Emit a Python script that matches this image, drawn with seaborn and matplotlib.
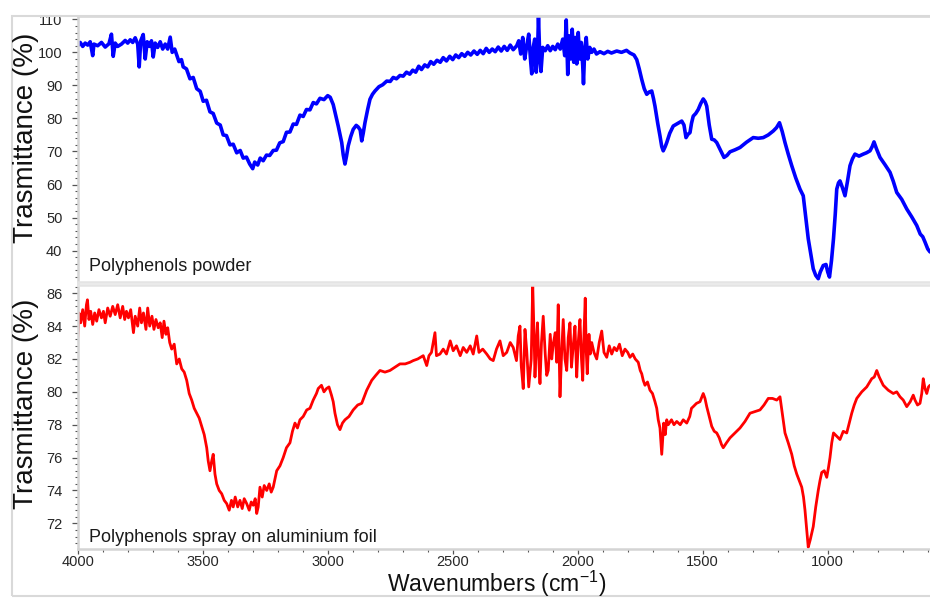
import matplotlib
matplotlib.use("Agg")
import matplotlib.pyplot as plt
from matplotlib.ticker import MultipleLocator
from matplotlib.patches import Rectangle
import seaborn as sns
import pandas as pd

# ---------------- data ----------------
wn_powder = [4000, 3990, 3980, 3970, 3960, 3950, 3940, 3935, 3920, 3905, 3890, 3875, 3865, 3858, 3850,
             3840, 3825, 3810, 3800, 3790, 3780, 3770, 3760, 3754, 3748, 3738, 3730, 3722, 3712, 3705,
             3698, 3690, 3680, 3670, 3660, 3650, 3640, 3630, 3622, 3612,
             3604, 3595, 3585, 3578, 3565, 3551, 3538, 3524, 3510, 3498, 3485, 3471, 3458, 3444, 3430,
             3418, 3405, 3391, 3378, 3364, 3350, 3338, 3325, 3312, 3300,
             3292, 3280, 3270, 3258, 3245, 3232, 3218, 3205, 3192, 3178, 3165, 3151, 3138, 3125, 3111,
             3098, 3085, 3071, 3058, 3045, 3031, 3015, 3000,
             2990, 2978, 2968, 2958, 2950, 2944, 2938, 2931, 2925, 2918, 2908, 2898, 2886, 2878, 2870,
             2864, 2858, 2851, 2840, 2831, 2821,
             2811, 2795, 2780, 2764, 2750, 2738, 2725, 2711, 2698, 2685, 2672, 2660, 2648, 2636, 2625,
             2612, 2600, 2588, 2576, 2563, 2550, 2538, 2525, 2512, 2500, 2488, 2476, 2464, 2452, 2440,
             2428, 2415, 2402, 2390, 2378, 2366, 2354, 2342, 2330, 2318, 2306, 2294, 2282, 2270, 2258, 2244,
             2236, 2228, 2220, 2212, 2204, 2196, 2188, 2184, 2178, 2172, 2166, 2160, 2157, 2152, 2147,
             2140, 2130, 2120, 2110, 2100, 2090, 2080, 2070, 2060, 2052, 2046, 2040, 2034, 2028, 2022,
             2016, 2010, 2004, 1998, 1992, 1986, 1980, 1977, 1972, 1966, 1960, 1952, 1944, 1935, 1925,
             1911, 1895, 1880, 1865, 1844, 1825,
             1805, 1791, 1775, 1764, 1754, 1744, 1734, 1724, 1714, 1704, 1697, 1691, 1680, 1671, 1664,
             1658, 1650, 1644, 1632, 1618, 1600, 1584, 1575, 1567, 1559, 1551, 1545, 1538, 1528, 1518,
             1508, 1498, 1490, 1484, 1474, 1464, 1454, 1444, 1430, 1415, 1403, 1391, 1371, 1351, 1325,
             1298, 1278, 1258, 1238, 1218, 1205, 1193, 1182, 1171, 1158, 1144, 1128, 1111, 1098, 1088,
             1078, 1068, 1058, 1048, 1038, 1030, 1018, 1007, 1000, 993, 985, 977, 970, 964, 957,
             951, 941, 931, 921, 911, 901, 891, 875, 858, 845, 831, 822, 815, 805, 791,
             771, 751, 738, 724, 704, 684, 664, 644, 630, 620, 611, 600, 591]
t_powder = [102.0, 103.0, 101.8, 102.8, 102.2, 103.2, 99.0, 102.5, 102.0, 103.0, 101.6, 102.6, 105.5, 98.8, 102.8,
            101.8, 102.5, 103.6, 102.8, 103.8, 103.0, 104.4, 102.5, 95.6, 103.5, 105.4, 98.0, 103.2, 101.8, 103.5,
            98.6, 102.8, 101.5, 103.2, 101.0, 102.5, 101.0, 104.6, 100.0, 101.0,
            99.2, 97.2, 97.8, 95.6, 95.0, 92.0, 92.4, 89.0, 88.2, 85.2, 85.5, 82.0, 81.5, 78.6, 78.0,
            75.0, 74.8, 72.0, 72.2, 69.6, 70.3, 68.0, 68.3, 66.2, 64.8,
            66.8, 65.9, 68.0, 67.2, 68.9, 68.8, 70.3, 70.4, 72.6, 73.0, 75.8, 75.9, 78.3, 78.2, 81.0,
            80.6, 82.7, 82.6, 84.8, 84.4, 86.1, 85.7, 86.9,
            86.4, 84.2, 81.0, 77.7, 74.8, 72.7, 69.0, 66.2, 68.5, 71.7, 74.5, 76.7, 77.9, 77.4, 76.5,
            73.2, 75.5, 78.7, 82.8, 85.8, 87.3,
            88.3, 89.6, 90.2, 91.3, 91.2, 92.4, 92.0, 93.0, 92.8, 94.0, 93.4, 94.6, 94.0, 95.8, 94.8,
            96.2, 95.6, 97.2, 96.4, 97.6, 97.0, 98.4, 97.4, 98.8, 97.8, 99.2, 98.4, 99.6, 98.8, 100.0,
            99.2, 100.4, 99.4, 100.6, 99.6, 101.2, 100.0, 101.0, 100.2, 101.6, 100.4, 101.8, 100.6, 102.2, 100.8, 102.0,
            103.5, 99.5, 104.5, 98.0, 102.0, 105.5, 97.0, 93.5, 101.5, 104.0, 94.0, 102.0, 111.0, 99.0, 94.2,
            101.5, 100.5, 102.0, 100.5, 101.8, 100.8, 102.5, 101.0, 104.0, 99.0, 109.8, 93.3, 105.0, 98.0, 107.0,
            97.0, 104.5, 96.5, 106.0, 98.0, 103.0, 96.0, 90.5, 101.0, 104.5, 98.0, 101.5, 100.0, 101.0, 99.5,
            100.2, 99.6, 100.3, 99.8, 100.4, 100.0,
            100.6, 99.8, 99.2, 97.8, 95.0, 91.8, 89.0, 87.3, 88.0, 88.3, 86.0, 83.7, 78.5, 74.7, 71.5,
            70.2, 71.5, 72.7, 75.5, 77.7, 78.5, 79.2, 78.0, 74.2, 75.2, 75.7, 78.5, 80.7, 81.5, 82.7,
            84.5, 85.9, 85.0, 83.7, 78.0, 73.7, 73.5, 72.7, 70.5, 68.2, 68.8, 69.9, 70.5, 71.2, 72.8,
            74.2, 74.0, 74.2, 75.0, 76.2, 77.2, 78.7, 76.0, 72.7, 69.2, 65.7, 62.0, 58.6, 56.6, 50.0,
            43.6, 39.0, 34.5, 32.5, 31.5, 33.5, 35.5, 35.8, 33.5, 32.0, 37.0, 43.6, 51.0, 58.6, 60.5,
            61.1, 59.0, 56.6, 61.0, 65.7, 67.8, 69.2, 68.6, 69.2, 69.6, 70.2, 71.5, 72.9, 70.8, 68.2,
            66.0, 63.7, 61.0, 57.6, 55.5, 52.6, 50.2, 47.6, 45.0, 44.2, 42.6, 40.5, 39.6]

wn_spray = [4000, 3995, 3988, 3980, 3972, 3965, 3961, 3955, 3948, 3940, 3932, 3924, 3915, 3905, 3897,
            3890, 3880, 3870, 3860, 3850, 3840, 3830, 3820, 3812, 3805, 3797, 3788, 3777, 3770, 3760,
            3752, 3745, 3737, 3727, 3720, 3712, 3703, 3695, 3687, 3678, 3670, 3662, 3655, 3647, 3640,
            3632, 3624, 3614, 3604, 3594, 3584, 3574, 3564, 3554, 3544, 3534, 3524, 3514, 3504, 3494,
            3484, 3478, 3471, 3464, 3458, 3451, 3444, 3434, 3424, 3414, 3404, 3394, 3385, 3378, 3370,
            3360, 3351, 3342, 3334, 3324, 3314, 3306, 3298, 3290, 3284, 3278, 3271, 3262, 3254, 3244,
            3234, 3226, 3218, 3211, 3204, 3191, 3178, 3165, 3151, 3141, 3131, 3121, 3111, 3098, 3084,
            3071, 3058, 3045, 3038, 3025, 3015, 3005, 2995, 2985, 2978, 2971, 2961, 2951, 2941, 2931,
            2915, 2898, 2880, 2864, 2854, 2844, 2834, 2824, 2808, 2791, 2771, 2751, 2731, 2711, 2690,
            2671, 2658, 2640, 2618, 2604, 2595, 2585, 2571, 2565, 2551, 2538, 2525, 2510, 2498, 2485,
            2470, 2458, 2444, 2430, 2418, 2404, 2395, 2380, 2364, 2350, 2338, 2325, 2311, 2298, 2284,
            2270, 2258, 2245, 2238, 2231, 2226, 2218, 2211, 2204, 2196, 2186, 2180, 2174, 2171, 2166,
            2161, 2156, 2151, 2145, 2138, 2130, 2124, 2118, 2110, 2104, 2098, 2090, 2084, 2078, 2071,
            2064, 2058, 2051, 2044, 2038, 2031, 2025, 2018, 2011, 2004, 1998, 1991, 1985, 1980, 1975,
            1970, 1966, 1962, 1955, 1950, 1944, 1935, 1924, 1914, 1904, 1895, 1884, 1874, 1864, 1854,
            1844, 1833, 1822, 1811, 1800, 1791, 1780, 1770, 1758, 1750, 1744, 1738, 1731, 1721, 1711,
            1701, 1691, 1684, 1678, 1671, 1664, 1656, 1650, 1644, 1638, 1625, 1615, 1604, 1590, 1578,
            1564, 1552, 1545, 1538, 1525, 1511, 1498, 1491, 1484, 1474, 1464, 1454, 1444, 1434, 1425,
            1418, 1405, 1391, 1371, 1351, 1331, 1311, 1291, 1271, 1255, 1238, 1221, 1204, 1191, 1181,
            1171, 1158, 1144, 1134, 1124, 1114, 1104, 1097, 1091, 1084, 1078, 1070, 1058, 1048, 1038,
            1031, 1024, 1014, 1004, 997, 991, 984, 977, 964, 951, 938, 924, 914, 904, 894,
            884, 864, 844, 824, 814, 804, 794, 778, 758, 738, 724, 711, 698, 684, 670,
            658, 651, 641, 631, 624, 618, 611, 604, 597, 591]
t_spray = [83.3, 84.8, 84.2, 85.0, 84.0, 85.3, 85.6, 84.4, 84.9, 84.1, 84.8, 84.3, 85.0, 84.5, 84.9,
           84.2, 85.1, 84.6, 85.2, 84.7, 85.3, 84.5, 85.2, 84.4, 84.9, 84.5, 85.0, 83.6, 84.6, 84.0,
           85.1, 84.2, 84.8, 83.8, 85.1, 84.0, 84.6, 83.8, 84.4, 83.9, 84.2, 83.3, 84.3, 83.5, 83.9,
           83.0, 82.6, 82.9, 81.7, 82.0, 81.4, 81.2, 80.7, 79.9, 79.5, 79.0, 78.7, 78.4, 77.9, 77.4,
           76.6, 75.8, 75.2, 75.8, 76.2, 75.0, 74.4, 74.0, 73.8, 73.4, 73.2, 72.8, 73.4, 73.0, 73.6,
           73.0, 73.4, 72.9, 73.5, 73.2, 72.8, 73.3, 73.1, 73.5, 72.6, 73.0, 74.2, 73.6, 74.3, 74.0,
           74.4, 73.9, 74.2, 74.7, 75.2, 75.5, 76.0, 76.6, 76.9, 77.6, 78.1, 77.8, 78.3, 78.5, 78.9,
           79.0, 79.5, 79.9, 80.2, 80.4, 80.0, 80.2, 80.3, 79.8, 79.4, 78.7, 78.0, 77.7, 78.1, 78.3,
           78.5, 78.9, 79.2, 79.3, 79.7, 80.1, 80.4, 80.7, 81.0, 81.3, 81.2, 81.3, 81.5, 81.7, 81.7,
           81.8, 81.9, 82.0, 82.2, 81.6, 82.2, 82.4, 83.6, 82.2, 82.3, 82.6, 82.3, 83.1, 82.5, 82.8,
           82.2, 82.7, 82.4, 82.8, 82.3, 83.4, 82.4, 82.6, 82.3, 82.0, 81.9, 82.6, 83.1, 82.2, 82.4,
           83.0, 82.7, 81.9, 83.4, 84.0, 81.6, 80.2, 83.8, 82.5, 80.3, 82.0, 86.5, 83.0, 80.9, 82.8,
           84.2, 82.0, 80.5, 83.0, 84.6, 82.3, 81.0, 81.3, 83.5, 82.0, 82.9, 83.6, 81.8, 85.3, 79.7,
           82.5, 84.4, 82.0, 81.3, 83.3, 84.2, 81.5, 82.8, 84.0, 80.9, 83.0, 84.4, 82.0, 80.7, 83.5,
           85.7, 82.5, 81.1, 83.5, 82.3, 83.0, 82.4, 82.0, 83.0, 83.7, 82.4, 82.1, 82.8, 82.3, 82.7,
           82.5, 82.9, 82.2, 82.6, 82.4, 82.1, 82.3, 82.0, 81.8, 81.3, 81.1, 80.7, 80.4, 80.6, 80.1,
           79.9, 79.4, 79.0, 78.3, 77.8, 76.2, 78.1, 77.4, 78.3, 78.0, 78.3, 78.0, 78.2, 78.0, 78.3,
           78.1, 78.5, 79.0, 79.1, 79.3, 79.4, 79.9, 79.6, 79.1, 78.5, 77.9, 77.6, 77.5, 77.2, 76.8,
           76.6, 76.9, 77.2, 77.5, 77.8, 78.2, 78.7, 78.8, 78.9, 79.2, 79.6, 79.6, 79.5, 79.7, 78.6,
           77.5, 76.9, 76.2, 75.5, 75.0, 74.6, 74.2, 73.6, 72.8, 71.6, 70.55, 71.0, 71.8, 73.0, 74.0,
           74.6, 75.1, 75.2, 74.8, 75.4, 76.0, 76.9, 77.5, 77.3, 77.1, 77.6, 77.5, 78.1, 78.7, 79.2,
           79.6, 80.0, 80.3, 80.8, 80.9, 81.3, 80.9, 80.4, 80.1, 79.9, 80.0, 79.7, 79.5, 79.1, 79.4,
           79.8, 79.5, 79.2, 79.3, 79.9, 80.8, 80.2, 79.9, 80.3, 80.4]

label_powder = "Polyphenols powder"
label_spray = "Polyphenols spray on aluminium foil"
ylabel = "Trasmittance (%)"
xlabel = "Wavenumbers (cm$^{-1}$)"
xticks = [4000, 3500, 3000, 2500, 2000, 1500, 1000]
yticks_top = [40, 50, 60, 70, 80, 90, 100, 110]
yticks_bottom = [72, 74, 76, 78, 80, 82, 84, 86]

assert len(wn_powder) == len(t_powder)
assert len(wn_spray) == len(t_spray)
df_powder = pd.DataFrame({"wn": wn_powder, "T": t_powder})
df_spray = pd.DataFrame({"wn": wn_spray, "T": t_spray})

# ---------------- style ----------------
sns.set_theme(style="white")
plt.rcParams["font.family"] = ["Liberation Sans", "DejaVu Sans"]
plt.rcParams["mathtext.fontset"] = "custom"
plt.rcParams["mathtext.rm"] = "Liberation Sans"
plt.rcParams["mathtext.it"] = "Liberation Sans"
plt.rcParams["mathtext.default"] = "regular"

W, H = 930, 599
fig = plt.figure(figsize=(W / 100, H / 100), dpi=100)

left = 77.7 / W
ax1 = fig.add_axes([left, (H - 282) / H, 1 - left, 266 / H])
ax2 = fig.add_axes([left, (H - 548.5) / H, 1 - left, 263.5 / H])

sns.lineplot(data=df_powder, x="wn", y="T", ax=ax1, color="#0000ff", linewidth=2.6,
             sort=False, estimator=None)
sns.lineplot(data=df_spray, x="wn", y="T", ax=ax2, color="#ff0000", linewidth=2.0,
             sort=False, estimator=None)

spine_col = "#d4d4d4"
tick_col = "#555555"
lab_col = "#262626"

for ax in (ax1, ax2):
    ax.set_xlim(4000, 591)
    ax.set_xlabel("")
    ax.set_ylabel("")
    ax.spines["right"].set_visible(False)
    for s in ("left", "bottom", "top"):
        ax.spines[s].set_color(spine_col)
        ax.spines[s].set_linewidth(1.8)
    ax.tick_params(axis="y", which="major", direction="out", length=4, width=0.9,
                   color=tick_col, labelsize=10.5, labelcolor=lab_col, pad=7, left=True)
    ax.tick_params(axis="y", which="minor", direction="out", length=2.5, width=0.8,
                   color=tick_col, left=True)
    ax.set_xticks(xticks)
    ax.xaxis.set_minor_locator(MultipleLocator(100))

ax1.spines["bottom"].set_color("#e4e4e4")
ax2.spines["top"].set_color("#e4e4e4")

ax1.set_ylim(30.5, 111)
ax1.set_yticks(yticks_top)
ax1.yaxis.set_minor_locator(MultipleLocator(2))
ax1.tick_params(axis="x", which="both", bottom=False, labelbottom=False)

ax2.set_ylim(70.47, 86.5)
ax2.set_yticks(yticks_bottom)
ax2.yaxis.set_minor_locator(MultipleLocator(0.4))
ax2.tick_params(axis="x", which="major", direction="out", length=3.5, width=0.9,
                color=tick_col, labelsize=10.5, labelcolor=lab_col, pad=1.5, bottom=True)
ax2.tick_params(axis="x", which="minor", direction="out", length=2.5, width=0.8,
                color=tick_col, bottom=True)

ax1.text(0.0133, 0.041, label_powder, transform=ax1.transAxes, fontsize=13,
         color="#1a1a1a", ha="left", va="baseline")
ax2.text(0.0133, 0.026, label_spray, transform=ax2.transAxes, fontsize=13,
         color="#1a1a1a", ha="left", va="baseline")

fig.text(26 / W, 1 - 137.5 / H, ylabel, rotation=90, ha="center", va="center",
         fontsize=20, color="#111111")
fig.text(26 / W, 1 - 404 / H, ylabel, rotation=90, ha="center", va="center",
         fontsize=20, color="#111111")
fig.text(497 / W, 1 - 591.5 / H, xlabel, ha="center", va="baseline", fontsize=16.5,
         color="#111111")

frame = Rectangle((12 / W, 1 - 596 / H), 1.0, (596 - 16) / H, transform=fig.transFigure,
                  fill=False, edgecolor="#d9d9d9", linewidth=1.5, zorder=0)
fig.patches.append(frame)

fig.savefig("out.png", dpi=100)
